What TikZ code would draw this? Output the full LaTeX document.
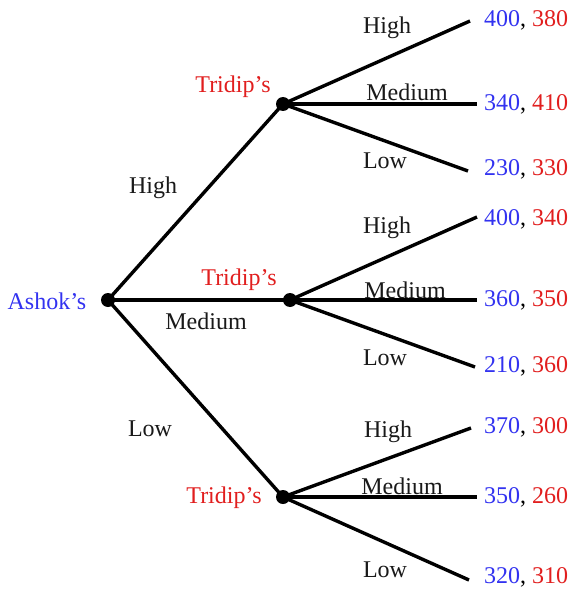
\documentclass[tikz,border=0pt]{standalone}
\usepackage{fontspec}
\setmainfont{Liberation Serif}
\definecolor{pblue}{RGB}{50,50,240}
\definecolor{pred}{RGB}{225,30,30}
\definecolor{ptext}{RGB}{25,25,25}
\begin{document}
\begin{tikzpicture}[x=1pt,y=-1pt,
  dot/.style={circle,fill=black,inner sep=0pt,minimum size=14pt},
  edge/.style={line width=3.4pt},
  lbl/.style={font=\fontsize{24}{27}\selectfont,text=ptext,inner sep=0pt},
  pay/.style={font=\fontsize{24}{27}\selectfont,anchor=west,inner sep=0pt},
  who/.style={font=\fontsize{24}{27}\selectfont,inner sep=0pt}]
\useasboundingbox (0,0) rectangle (574,591);
% decision nodes
\node[dot] (r) at (108,300) {};
\node[dot] (a) at (283,104) {};
\node[dot] (b) at (290,300) {};
\node[dot] (c) at (283,497) {};
% leaves
\coordinate (a1) at (470,21);
\coordinate (a2) at (477,104);
\coordinate (a3) at (468,171);
\coordinate (b1) at (477,217);
\coordinate (b2) at (477,300);
\coordinate (b3) at (475,367);
\coordinate (c1) at (471,428);
\coordinate (c2) at (477,497);
\coordinate (c3) at (469,580);
% edges
\draw[edge] (r.center) -- (a.center);
\draw[edge] (r.center) -- (b.center);
\draw[edge] (r.center) -- (c.center);
\foreach \p in {a,b,c}{
  \draw[edge] (\p.center) -- (\p1);
  \draw[edge] (\p.center) -- (\p2);
  \draw[edge] (\p.center) -- (\p3);
}
% player labels
\node[who,text=pblue] (ashok) at (47,301) {Ashok's};
\node[who,text=pred] (ta) at (233,87) {Tridip's};
\node[who,text=pred] (tb) at (239,280) {Tridip's};
\node[who,text=pred] (tc) at (224,498) {Tridip's};
% root edge labels
\node[lbl] (lh) at (153,188) {High};
\node[lbl] (lm) at (206,321) {Medium};
\node[lbl] (ll) at (150,429) {Low};
% second-stage labels
\node[lbl] (ah) at (387,28) {High};
\node[lbl] (am) at (407,92) {Medium};
\node[lbl] (al) at (385,161) {Low};
\node[lbl] (bh) at (387,228) {High};
\node[lbl] (bm) at (405,290) {Medium};
\node[lbl] (bl) at (385,358) {Low};
\node[lbl] (ch) at (388,432) {High};
\node[lbl] (cm) at (402,486) {Medium};
\node[lbl] (cl) at (385,570) {Low};
% payoffs
\node[pay] (pa1) at (484,20) {\textcolor{pblue}{400}, \textcolor{pred}{380}};
\node[pay] (pa2) at (484,104) {\textcolor{pblue}{340}, \textcolor{pred}{410}};
\node[pay] (pa3) at (484,169) {\textcolor{pblue}{230}, \textcolor{pred}{330}};
\node[pay] (pb1) at (484,219) {\textcolor{pblue}{400}, \textcolor{pred}{340}};
\node[pay] (pb2) at (484,300) {\textcolor{pblue}{360}, \textcolor{pred}{350}};
\node[pay] (pb3) at (484,366) {\textcolor{pblue}{210}, \textcolor{pred}{360}};
\node[pay] (pc1) at (484,427) {\textcolor{pblue}{370}, \textcolor{pred}{300}};
\node[pay] (pc2) at (484,497) {\textcolor{pblue}{350}, \textcolor{pred}{260}};
\node[pay] (pc3) at (484,577) {\textcolor{pblue}{320}, \textcolor{pred}{310}};
\end{tikzpicture}
\end{document}
